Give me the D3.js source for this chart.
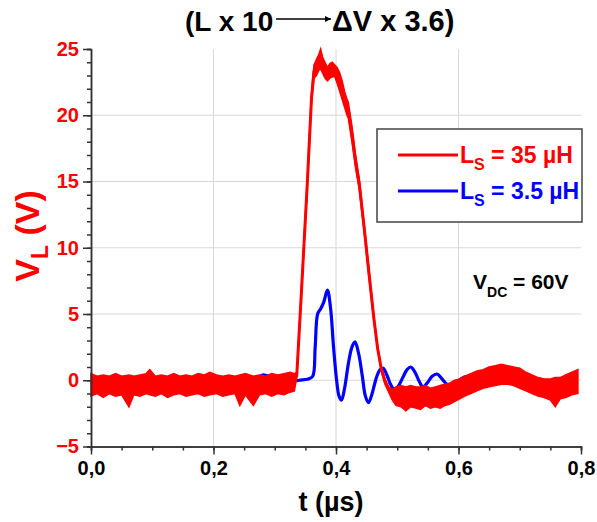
<!DOCTYPE html>
<meta charset="utf-8">
<style>
body { margin: 0; background: #fff; }
svg { font-family: "Liberation Sans", Arial, sans-serif; font-weight: bold; }
.grid line { stroke: #d8d8d8; stroke-width: 1px; }
.axis path, .axis line { stroke: #333; stroke-width: 1.5px; }
.axis text { font-weight: bold; }
</style>
<body>
<div id="chart"></div>
<script src="https://d3js.org/d3.v7.min.js"></script>
<script>

// x ticks and y ticks
var xTicks = [0, 0.2, 0.4, 0.6, 0.8];
var yTicks = [-5, 0, 5, 10, 15, 20, 25];

// blue trace, Ls = 3.5 uH
var blueT = [0.00, 0.05, 0.10, 0.15, 0.20, 0.25, 0.270, 0.280, 0.290, 0.300, 0.320, 0.340, 0.355, 0.362,
  0.366, 0.370, 0.375, 0.380, 0.386, 0.391, 0.396, 0.401, 0.405, 0.409, 0.414, 0.420, 0.426, 0.431,
  0.437, 0.443, 0.448, 0.453, 0.459, 0.466, 0.472, 0.477, 0.483, 0.489, 0.495, 0.501, 0.509, 0.516,
  0.522, 0.529, 0.536, 0.542, 0.549, 0.557, 0.565, 0.573, 0.581, 0.589, 0.597, 0.604, 0.611, 0.620,
  0.640, 0.680, 0.720, 0.740, 0.760, 0.780, 0.795];
var blueV = [-0.1, -0.05, -0.1, -0.05, -0.1, -0.05, 0.1, 0.4, 0.3, 0.0, -0.1, 0.0, 0.1, 0.3,
  2.5, 5.0, 5.4, 5.9, 6.8, 5.5, 2.5, 0.0, -1.2, -1.5, -0.6, 1.2, 2.5, 2.9,
  2.0, 0.3, -1.2, -1.7, -1.0, 0.2, 0.8, 0.9, 0.4, -0.3, -0.7, -0.5, 0.2, 0.8,
  1.0, 0.6, -0.1, -0.5, -0.2, 0.3, 0.47, 0.1, -0.3, -0.5, -0.2, 0.1, 0.25, 0.0,
  -0.1, 0.0, 0.1, -0.2, 0.0, 0.1, 0.1];

// red trace, Ls = 35 uH (noise band: low / high edge)
var redT = [0.000, 0.010, 0.020, 0.030, 0.040, 0.050, 0.062, 0.070, 0.080, 0.090, 0.096, 0.105,
  0.115, 0.125, 0.135, 0.145, 0.155, 0.165, 0.175, 0.185, 0.194, 0.205, 0.215, 0.225, 0.235,
  0.243, 0.252, 0.265, 0.275, 0.285, 0.295, 0.305, 0.315, 0.325, 0.332,
  0.336, 0.343, 0.353, 0.360, 0.364,
  0.368, 0.372, 0.375, 0.378, 0.382, 0.386, 0.390, 0.394, 0.398, 0.402, 0.406, 0.410, 0.414, 0.418,
  0.420, 0.426, 0.432, 0.438, 0.446, 0.454, 0.462, 0.468, 0.474, 0.480, 0.486, 0.492,
  0.498, 0.506, 0.514, 0.522, 0.530, 0.538, 0.546, 0.554, 0.562, 0.570, 0.578, 0.586, 0.594,
  0.602, 0.610, 0.620, 0.630, 0.640, 0.650, 0.660, 0.670, 0.680, 0.690, 0.700, 0.710, 0.720,
  0.730, 0.740, 0.750, 0.758, 0.766, 0.775, 0.785, 0.795];
var redLo = [-1.2, -1.0, -1.3, -1.0, -1.2, -1.1, -2.0, -1.1, -1.2, -1.0, -1.1, -1.2,
  -1.0, -1.3, -1.1, -1.0, -1.2, -1.1, -1.0, -1.2, -1.1, -1.0, -1.2, -1.1, -1.0,
  -1.9, -1.1, -1.9, -1.1, -1.0, -1.2, -1.0, -1.1, -0.9, -0.8,
  0.2, 6.0, 14.5, 21.0, 22.8,
  23.0, 23.4, 23.5, 23.2, 22.8, 22.6, 22.8, 22.9, 22.9, 22.4, 21.8, 21.2, 20.6, 20.0,
  19.8, 18.0, 16.0, 14.4, 11.2, 7.7, 4.4, 2.3, 0.7, -0.3, -0.9, -1.5,
  -1.9, -2.0, -2.3, -2.0, -2.1, -2.2, -1.9, -2.1, -2.0, -2.1, -1.9, -1.8, -1.6,
  -1.4, -1.2, -1.0, -0.8, -0.6, -0.5, -0.4, -0.3, -0.3, -0.4, -0.6, -0.8, -1.0,
  -1.2, -1.3, -1.5, -2.0, -1.4, -1.3, -1.1, -1.0];
var redHi = [0.5, 0.3, 0.4, 0.3, 0.5, 0.3, 0.4, 0.3, 0.4, 0.5, 0.8, 0.3,
  0.4, 0.3, 0.5, 0.3, 0.4, 0.3, 0.5, 0.4, 0.6, 0.4, 0.3, 0.4, 0.3,
  0.4, 0.5, 0.3, 0.4, 0.3, 0.5, 0.4, 0.5, 0.6, 0.5,
  0.6, 6.4, 15.0, 21.6, 23.8,
  24.2, 24.6, 25.0, 24.4, 24.0, 23.6, 23.9, 24.0, 23.8, 23.6, 23.2, 22.6, 21.8, 21.2,
  21.0, 19.2, 17.0, 15.2, 11.8, 8.3, 4.8, 2.5, 1.0, 0.1, -0.5, -0.7,
  -0.5, -0.4, -0.5, -0.4, -0.5, -0.5, -0.4, -0.6, -0.5, -0.4, -0.3, -0.2, 0.0,
  0.1, 0.3, 0.5, 0.7, 0.8, 1.0, 1.1, 1.2, 1.1, 1.0, 0.9, 0.6, 0.4,
  0.2, 0.1, 0.1, 0.2, 0.2, 0.4, 0.6, 0.8];

var width = 597, height = 522;

var x = d3.scaleLinear().domain([0, 0.8]).range([91, 581]);
var y = d3.scaleLinear().domain([-5, 25]).range([446.5, 49]);

var svg = d3.select("#chart").append("svg")
    .attr("width", width)
    .attr("height", height);

// grid lines
svg.append("g").attr("class", "grid")
  .selectAll("line").data([0.2, 0.4, 0.6]).enter().append("line")
    .attr("x1", function(d) { return x(d); }).attr("x2", function(d) { return x(d); })
    .attr("y1", y(25)).attr("y2", y(-5));
svg.append("g").attr("class", "grid")
  .selectAll("line").data([0, 5, 10, 15, 20]).enter().append("line")
    .attr("x1", x(0)).attr("x2", x(0.8))
    .attr("y1", function(d) { return y(d); }).attr("y2", function(d) { return y(d); });

// blue trace
var blueData = blueT.map(function(t, i) { return {t: t, v: blueV[i]}; });
svg.append("path")
    .datum(blueData)
    .attr("fill", "none")
    .attr("stroke", "#0000ff")
    .attr("stroke-width", 3.2)
    .attr("d", d3.line()
      .curve(d3.curveCatmullRom)
      .x(function(d) { return x(d.t); })
      .y(function(d) { return y(d.v); }));

// red trace: noise band + centre line
var redData = redT.map(function(t, i) { return {t: t, lo: redLo[i], hi: redHi[i]}; });
svg.append("path")
    .datum(redData)
    .attr("fill", "#ff0000")
    .attr("stroke", "#ff0000")
    .attr("stroke-width", 1.5)
    .attr("d", d3.area()
      .x(function(d) { return x(d.t); })
      .y0(function(d) { return y(d.lo); })
      .y1(function(d) { return y(d.hi); }));
svg.append("path")
    .datum(redData)
    .attr("fill", "none")
    .attr("stroke", "#ff0000")
    .attr("stroke-width", 3)
    .attr("d", d3.line()
      .x(function(d) { return x(d.t); })
      .y(function(d) { return y((d.lo + d.hi) / 2); }));

// axes
var fmt = function(d) { return d3.format(".1f")(d).replace(".", ","); };
svg.append("g").attr("class", "axis")
    .attr("transform", "translate(0," + y(-5) + ")")
    .call(d3.axisBottom(x).ticks(20).tickSize(4).tickFormat(""));
var xAxis = svg.append("g").attr("class", "axis")
    .attr("transform", "translate(0," + y(-5) + ")")
    .call(d3.axisBottom(x).tickValues(xTicks).tickSize(8).tickSizeOuter(0).tickPadding(6).tickFormat(fmt));
xAxis.selectAll("text").attr("fill", "#000").style("font-size", "20px");

svg.append("g").attr("class", "axis")
    .attr("transform", "translate(" + x(0) + ",0)")
    .call(d3.axisLeft(y).ticks(30).tickSize(4).tickFormat(""));
var yAxis = svg.append("g").attr("class", "axis")
    .attr("transform", "translate(" + x(0) + ",0)")
    .call(d3.axisLeft(y).tickValues(yTicks).tickSize(8).tickSizeOuter(0).tickPadding(4));
yAxis.selectAll("text").attr("fill", "#ff0000").style("font-size", "20px");

// axis titles
svg.append("text")
    .attr("x", 331).attr("y", 511)
    .attr("text-anchor", "middle")
    .style("font-size", "27px")
    .text("t (\u00b5s)");

var yl = svg.append("text")
    .attr("transform", "translate(39,236) rotate(-90)")
    .attr("text-anchor", "middle")
    .attr("fill", "#ff0000")
    .style("font-size", "34px");
yl.append("tspan").text("V");
yl.append("tspan").attr("dy", 9).style("font-size", "23px").text("L");
yl.append("tspan").attr("dy", -9).text(" (V)");

// title
svg.append("text")
    .attr("x", 185).attr("y", 31)
    .style("font-size", "28px")
    .text("(L x 10");
svg.append("defs").append("marker")
    .attr("id", "arr")
    .attr("viewBox", "0 0 10 10")
    .attr("refX", 10).attr("refY", 5)
    .attr("markerWidth", 7).attr("markerHeight", 6)
    .attr("markerUnits", "userSpaceOnUse")
    .attr("orient", "auto")
  .append("path").attr("d", "M0,0L10,5L0,10z").attr("fill", "#000");
svg.append("line")
    .attr("x1", 276).attr("x2", 331)
    .attr("y1", 19).attr("y2", 19)
    .attr("stroke", "#000").attr("stroke-width", 1.5)
    .attr("marker-end", "url(#arr)");
svg.append("text")
    .attr("x", 332).attr("y", 31)
    .style("font-size", "29px")
    .text("\u0394V x 3.6)");

// legend
var legend = svg.append("g");
legend.append("rect")
    .attr("x", 377).attr("y", 129)
    .attr("width", 205).attr("height", 93)
    .attr("fill", "#fff")
    .attr("stroke", "#444").attr("stroke-width", 1.5);
var legendItems = [
  {label: "35 \u00b5H", color: "#ff0000", y: 155},
  {label: "3.5 \u00b5H", color: "#0000ff", y: 191}
];
legendItems.forEach(function(d) {
  legend.append("line")
      .attr("x1", 398).attr("x2", 458)
      .attr("y1", d.y).attr("y2", d.y)
      .attr("stroke", d.color).attr("stroke-width", 3);
  var t = legend.append("text")
      .attr("x", 460).attr("y", d.y + 8)
      .attr("fill", d.color)
      .style("font-size", "23px");
  t.append("tspan").text("L");
  t.append("tspan").attr("dy", 7).style("font-size", "16px").text("S");
  t.append("tspan").attr("dy", -7).text(" = " + d.label);
});

// supply voltage note
var vdc = svg.append("text")
    .attr("x", 473).attr("y", 289)
    .style("font-size", "21px");
vdc.append("tspan").text("V");
vdc.append("tspan").attr("dy", 8).style("font-size", "14px").text("DC");
vdc.append("tspan").attr("dy", -8).text(" = 60V");

</script>
</body>
